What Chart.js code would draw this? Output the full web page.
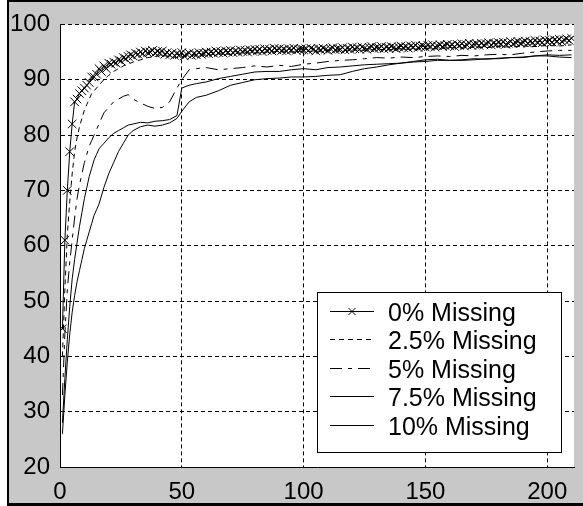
<!DOCTYPE html>
<html>
<head>
<meta charset="utf-8">
<script src="https://cdn.jsdelivr.net/npm/chart.js@4/dist/chart.umd.min.js"></script>
<style>
body{margin:0;background:#fff}
canvas{display:block}
</style>
</head>
<body>
<canvas id="lossChart" width="583" height="506"></canvas>
<script>
/* ====================================
   DATA
==================================== */

// legend labels
const seriesLabels=["0% Missing","2.5% Missing","5% Missing","7.5% Missing","10% Missing"]

// axis ticks
const xTicks=[0,50,100,150,200]
const yTicks=[20,30,40,50,60,70,80,90,100]

// 0% series has a value at every epoch 1..210
const missing0=[
45,61,70,77,82,86,86.5,87.5,88,88.5,89,89.5,90.5,90.5,91,92,91.5,92.5,92,93,
92.8,93.2,93,93.6,93.4,94,93.8,94.2,94.5,94.3,94.8,94.6,95,94.7,95.2,94.9,95,95.3,94.8,95.1,
94.9,95.2,94.6,94.9,94.5,94.8,94.4,94.7,94.5,94.9,94.3,94.6,94.8,94.4,94.7,94.5,94.9,94.6,94.8,95,
94.7,95,94.8,95.2,94.9,95.1,94.8,95.2,95,95.3,94.9,95.2,95,95.4,95.1,95.3,95,95.4,95.2,95.5,
95.2,95.5,95.1,95.6,95.3,95.5,95.2,95.7,95.4,95.6,95.3,95.5,95.2,95.6,95.4,95.7,95.3,95.5,95.6,95.4,
95.6,95.3,95.7,95.5,95.2,95.6,95.4,95.7,95.5,95.3,95.6,95.8,95.4,95.6,95.5,95.8,95.4,95.7,95.5,95.9,
95.6,95.8,95.5,95.9,95.7,95.5,95.8,96,95.6,95.8,95.7,96,95.6,95.9,95.7,96,95.8,95.6,95.9,96.1,
95.8,96,95.7,96.1,95.9,96.2,95.8,96,96.1,95.9,96.2,96,96.3,95.9,96.1,96.3,96,96.2,96.4,96.1,
96.3,96,96.4,96.2,96.5,96.1,96.3,96.6,96.2,96.4,96.5,96.2,96.6,96.3,96.5,96.7,96.3,96.6,96.4,96.7,
96.5,96.8,96.4,96.6,96.9,96.5,96.7,96.9,96.6,96.8,97,96.6,96.9,96.7,97.1,96.8,97,96.7,97.2,96.9,
97.1,96.8,97.2,97,97.3,96.9,97.2,97.4,97.1,97.5
]
const epochsAll=Array.from({length:missing0.length},(v,i)=>i+1)

// the other series, read at these epochs
const epochsSparse=[1,2,3,4,5,6,7,8,9,10,11,12,13,14,15,16,18,20,22,24,26,28,30,33,36,39,42,45,48,50,
53,56,60,65,70,75,80,85,90,95,100,105,110,115,120,125,130,135,140,145,150,155,160,165,170,175,180,185,190,195,200,205,210]

const missing25=[40,52,62,68,73,77,79.5,81.5,83,84.5,85.5,86.5,87.5,88,88.5,89,90,90.8,91.5,92,92.5,92.8,93.2,93.6,94,94.2,94.4,94.2,94,94.2,
94.3,94.5,94.4,94.7,94.6,94.9,94.8,95,95.1,95,95.2,95.1,95.3,95.2,95.4,95.3,95.5,95.4,95.6,95.5,95.7,95.6,95.8,95.7,95.9,95.8,96,95.9,96.1,96,96.2,96.1,96.3]

const missing5=[33,44,52,57,61,65,68.5,71,73,75,76.5,78,79,80,81,82,84,85,86,86.5,87,87.3,86.5,85.8,85.2,84.8,85,86,88.5,90,
91.8,92,92.2,91.8,92,92.2,92.5,92.3,92.6,92.4,92.8,93,93.3,93.5,93.6,93.8,94,93.9,94.1,94,94.2,94.3,94.2,94.4,94.3,94.5,94.6,94.5,94.8,95,95.2,95.3,95.3]

const missing75=[28,36,43,49,54,57.5,60.5,63.5,66,68.5,70.5,72.5,74,75.5,76.5,77.5,78.5,79.5,80.3,80.8,81.3,81.8,82,82.3,82.2,82.5,82.6,82.8,83.5,88.5,
89,89.3,89.6,90.2,90.6,91,91.4,91.5,91.5,91.8,92,91.8,92.2,92.3,92.5,92.7,92.8,92.9,93,93.2,93.3,93.5,93.5,93.6,93.8,93.7,93.9,94,94.1,94.3,94.5,94.4,94.5]

const missing10=[26,33,39,44,48,51,53.5,55.5,57.5,59.5,61,62.5,64,65.5,66.5,67.5,70.5,73,75,77,78.5,80,80.8,81.5,81.8,81.6,81.8,82.2,83,84.3,
86,86.8,87.2,88,89,89.5,90,90.2,90.3,90.5,90.5,90.6,90.8,90.9,91.5,92,92.3,92.7,93,93.3,93.6,93.7,93.5,93.5,93.6,93.8,93.8,94,94,94.3,94.3,94.1,94]


/* ====================================
   HELPERS
==================================== */

function toPoints(xs,ys){
return ys.map((y,i)=>({x:xs[i],y:y}))
}

function lineSet(label,xs,ys,dash){
return{
label:label,
data:toPoints(xs,ys),
borderColor:"#000",
borderWidth:1,
borderDash:dash,
pointRadius:0,
tension:0
}
}


/* ====================================
   BACKGROUND (gray figure + frame)
==================================== */

const figureBackground={
id:"figureBackground",
beforeDraw(chart){
const c=chart.ctx
const a=chart.chartArea
c.save()
c.fillStyle="#fff"
c.fillRect(0,0,chart.width,chart.height)
c.fillStyle="#c8c8c8"
c.fillRect(9,2,chart.width-9,501)
c.fillStyle="#000"
c.fillRect(7,0,2,506)
c.fillRect(7,0,chart.width-7,2)
c.fillRect(7,503,chart.width-7,3)
c.fillStyle="#fff"
c.fillRect(a.left,a.top,a.right-a.left,a.bottom-a.top)
c.restore()
}
}


/* ====================================
   LEGEND BOX INSIDE THE AXES
==================================== */

const boxLegend={
id:"boxLegend",
afterDraw(chart){
const c=chart.ctx
c.save()
c.fillStyle="#fff"
c.fillRect(317,292,245,161)
c.strokeStyle="#000"
c.lineWidth=1
c.strokeRect(317.5,292.5,244,160)

chart.data.datasets.forEach((ds,i)=>{
const y=312+i*28.4
c.beginPath()
c.setLineDash(ds.borderDash||[])
c.moveTo(330,Math.round(y)-0.5)
c.lineTo(374,Math.round(y)-0.5)
c.stroke()
c.setLineDash([])
if(ds.pointStyle){
Chart.helpers.drawPoint(c,{pointStyle:ds.pointStyle,radius:5,borderWidth:1},352,Math.round(y)-0.5)
}
c.fillStyle="#000"
c.font="25px 'Liberation Sans', Arial, sans-serif"
c.textBaseline="alphabetic"
c.textAlign="left"
c.fillText(ds.label,388,y+9)
})
c.restore()
}
}


/* ====================================
   CHART
==================================== */

const tickFont={family:"'Liberation Sans', Arial, sans-serif",size:24}

const datasets=[
{
label:seriesLabels[0],
data:toPoints(epochsAll,missing0),
borderColor:"#000",
borderWidth:1,
pointStyle:"crossRot",
pointRadius:6,
pointBorderColor:"#000",
pointBorderWidth:1,
tension:0
},
lineSet(seriesLabels[1],epochsSparse,missing25,[5,4]),
lineSet(seriesLabels[2],epochsSparse,missing5,[12,6,4,6]),
lineSet(seriesLabels[3],epochsSparse,missing75,[]),
lineSet(seriesLabels[4],epochsSparse,missing10,[])
]

new Chart(document.getElementById("lossChart"),{

type:"line",

data:{datasets:datasets},

options:{
responsive:false,
animation:false,
layout:{padding:{left:0,top:19,right:9,bottom:0}},
plugins:{
legend:{display:false},
tooltip:{enabled:false}
},
scales:{
x:{
type:"linear",
min:0,
max:211,
afterBuildTicks(s){s.ticks=xTicks.map(v=>({value:v}))},
afterFit(s){s.height=39},
ticks:{color:"#000",font:tickFont,padding:11,maxRotation:0},
grid:{color:"#000",lineWidth:1,drawTicks:false},
border:{display:true,color:"#000",width:1,dash:[4,3]}
},
y:{
min:20,
max:100,
afterBuildTicks(s){s.ticks=yTicks.map(v=>({value:v}))},
afterFit(s){s.width=60},
ticks:{color:"#000",font:tickFont,padding:10},
grid:{color:"#000",lineWidth:1,drawTicks:false},
border:{display:true,color:"#000",width:1,dash:[4,3]}
}
}
},

plugins:[figureBackground,boxLegend]

})
</script>
</body>
</html>
